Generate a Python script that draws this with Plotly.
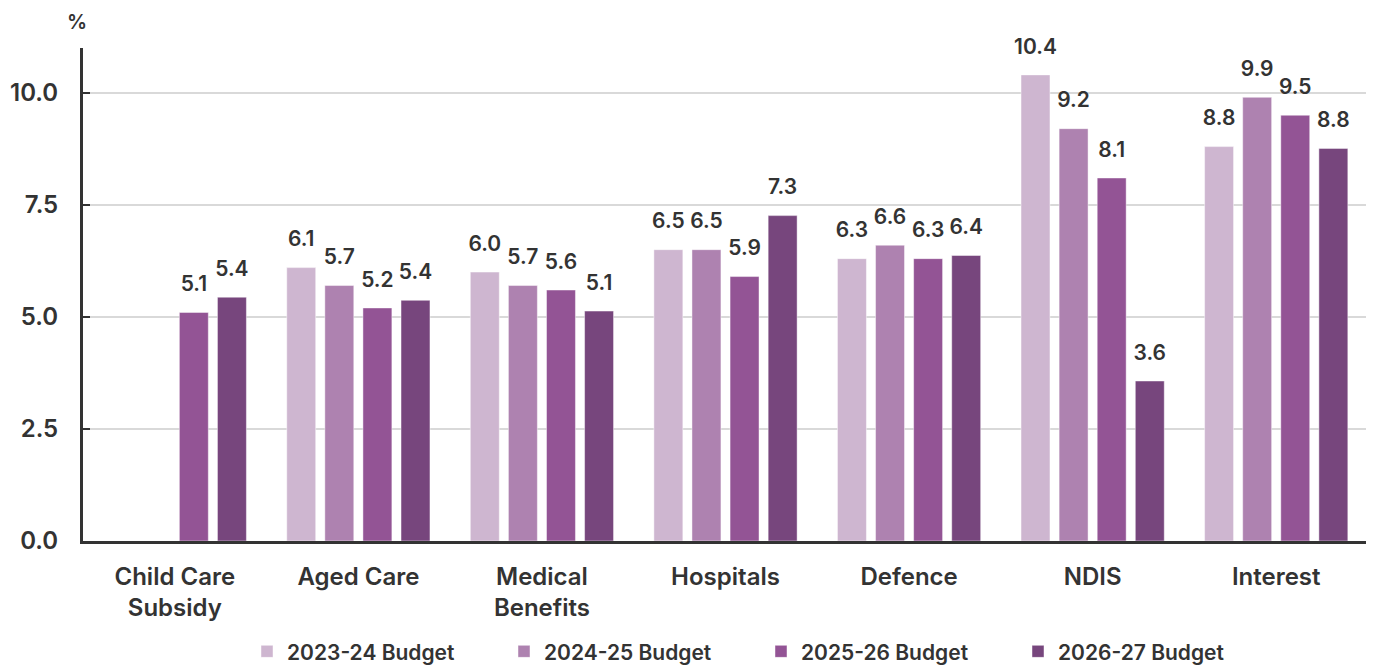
import plotly.graph_objects as go

categories = ["Child Care<br>Subsidy", "Aged Care", "Medical<br>Benefits", "Hospitals", "Defence", "NDIS", "Interest"]
series_names = ["2023-24 Budget", "2024-25 Budget", "2025-26 Budget", "2026-27 Budget"]
b2023 = [None, 6.1, 6.0, 6.5, 6.3, 10.4, 8.8]
b2024 = [None, 5.7, 5.7, 6.5, 6.6, 9.2, 9.9]
b2025 = [5.1, 5.2, 5.6, 5.9, 6.3, 8.1, 9.5]
b2026 = [5.44, 5.37, 5.13, 7.26, 6.37, 3.57, 8.76]
colors = ["#CEB6D0", "#AE82B0", "#935495", "#77467D"]

fig = go.Figure()
for name, vals, col in zip(series_names, [b2023, b2024, b2025, b2026], colors):
    fig.add_trace(go.Bar(
        x=categories, y=vals, name=name,
        marker=dict(color=col, line=dict(color="rgba(255,255,255,0.45)", width=1)),
        hoverinfo="x+y+name",
    ))
for name, vals in zip(series_names, [b2023, b2024, b2025, b2026]):
    fig.add_trace(go.Scatter(
        x=categories, y=vals, name=name, mode="markers+text",
        texttemplate="%{y:.1f}", textposition="top center", cliponaxis=False,
        marker=dict(size=24, opacity=0),
        textfont=dict(family="Inter", size=21, color="#333333", weight=600),
        showlegend=False, hoverinfo="skip",
    ))

fig.update_layout(
    width=1374, height=667,
    paper_bgcolor="white", plot_bgcolor="white",
    margin=dict(l=75, r=14, t=40, b=134, autoexpand=False),
    barmode="group", bargap=0.17, bargroupgap=0.24,
    scattermode="group", scattergap=0.17,
    font=dict(family="Inter", color="#333333"),
    showlegend=True,
    legend=dict(orientation="h", x=(247 - 83) / 1285, xanchor="left", y=-0.183, yanchor="top",
                font=dict(family="Inter", size=21, color="#333333", weight=600),
                itemwidth=30, traceorder="normal",
                entrywidth=212, entrywidthmode="pixels"),
    annotations=[dict(text="%", x=-0.005, xref="paper", y=1.053, yref="paper",
                      xanchor="center", yanchor="middle", showarrow=False,
                      font=dict(family="Inter", size=20, color="#333333", weight=600))],
)
fig.update_yaxes(range=[0, 11], tickvals=[0, 2.5, 5, 7.5, 10], ticktext=["0.0", "2.5", "5.0", "7.5", "10.0"],
                 showgrid=True, gridcolor="#D9D9D9", gridwidth=1.5,
                 showline=True, linecolor="#333333", linewidth=3,
                 ticks="inside", ticklen=7, tickwidth=2, tickcolor="#333333",
                 tickfont=dict(family="Inter", size=24, color="#333333", weight=600),
                 zeroline=False, ticklabelstandoff=17, automargin=False)
fig.update_xaxes(showline=True, linecolor="#333333", linewidth=3,
                 tickfont=dict(family="Inter", size=24, color="#333333", weight=600),
                 ticks="", ticklabelstandoff=12, automargin=False)

fig.write_html("out.html")
